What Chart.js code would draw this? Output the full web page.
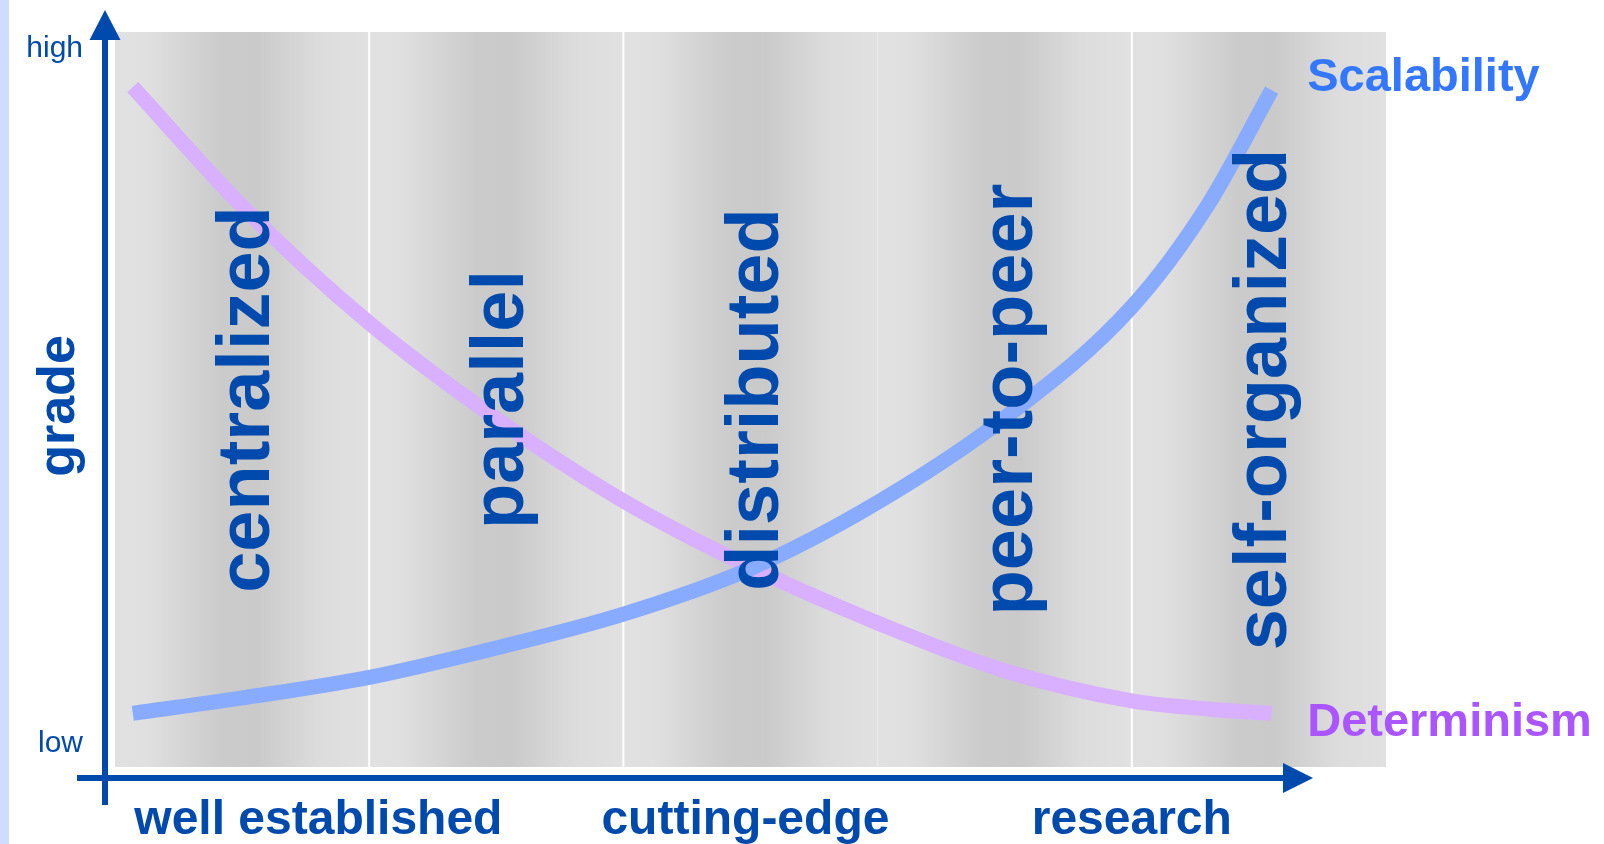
<!DOCTYPE html>
<html>
<head>
<meta charset="utf-8">
<script src="https://cdn.jsdelivr.net/npm/chart.js@4/dist/chart.umd.min.js"></script>
<style>
  html, body { margin: 0; padding: 0; background: #ffffff; }
  #wrap { width: 1604px; height: 844px; position: relative; }
  canvas { display: block; }
</style>
</head>
<body>
<div id="wrap"><canvas id="c" width="1604" height="844"></canvas></div>
<script>
// ---- data ----
const categories = ['centralized', 'parallel', 'distributed', 'peer-to-peer', 'self-organized'];
const xPositions = [0.07, 0.5, 1.0, 1.5, 2.0, 2.5, 3.0, 3.5, 4.0, 4.3, 4.55];
const scalability = [0.073, 0.094, 0.122, 0.162, 0.208, 0.270, 0.360, 0.475, 0.626, 0.765, 0.921];
const determinism = [0.925, 0.763, 0.604, 0.474, 0.362, 0.272, 0.196, 0.131, 0.090, 0.079, 0.073];
const seriesNames = ['Scalability', 'Determinism'];
const maturityLabels = ['well established', 'cutting-edge', 'research'];
const maturityPositions = [0.8, 2.48, 4.0];
const gradeLabels = ['low', 'high'];
const gradeValues = [0.02, 0.966];
const axisTitle = 'grade';

const FONT = '"Liberation Sans", Arial, Helvetica, sans-serif';
const DARK = '#004aad';

const decor = {
  id: 'decor',
  beforeDatasetsDraw(chart) {
    const ctx = chart.ctx;
    const xs = chart.scales.x;
    const area = chart.chartArea;
    ctx.save();
    // left strip
    ctx.fillStyle = '#cddcff';
    ctx.fillRect(0, 0, 9, chart.height);
    // bands
    for (let i = 0; i < categories.length; i++) {
      const x0 = xs.getPixelForValue(i), x1 = xs.getPixelForValue(i + 1);
      const g = ctx.createLinearGradient(x0, 0, x1, 0);
      g.addColorStop(0, '#e1e1e1');
      g.addColorStop(0.12, '#e0e0e0');
      g.addColorStop(0.42, '#cbcbcb');
      g.addColorStop(0.56, '#cacaca');
      g.addColorStop(0.8, '#dcdcdc');
      g.addColorStop(1, '#e1e1e1');
      ctx.fillStyle = g;
      ctx.fillRect(x0, area.top, x1 - x0, area.bottom - area.top);
    }
    // white separators
    ctx.fillStyle = '#ffffff';
    [1, 2, 4].forEach(v => {
      const x = xs.getPixelForValue(v);
      ctx.fillRect(x - 1, area.top, 2, area.bottom - area.top);
    });
    ctx.restore();
  },
  afterDatasetsDraw(chart) {
    const ctx = chart.ctx;
    const xs = chart.scales.x, ys = chart.scales.y;
    const area = chart.chartArea;
    const midY = (area.top + area.bottom) / 2;
    ctx.save();
    // category labels (rotated)
    ctx.fillStyle = DARK;
    ctx.font = 'bold 74px ' + FONT;
    ctx.textAlign = 'center';
    ctx.textBaseline = 'alphabetic';
    categories.forEach((c, i) => {
      const cx = xs.getPixelForValue(i + 0.5);
      ctx.save();
      ctx.translate(cx + 27, midY);
      ctx.rotate(-Math.PI / 2);
      ctx.fillText(c, 0, 0);
      ctx.restore();
    });
    // axes
    const axX = area.left - 10;      // y axis x
    const axY = area.bottom + 11;    // x axis y
    ctx.fillStyle = DARK;
    ctx.fillRect(axX - 3, 40, 6, axY + 27 - 40);
    ctx.beginPath();
    ctx.moveTo(axX, 10); ctx.lineTo(axX - 15.5, 40); ctx.lineTo(axX + 15.5, 40); ctx.closePath();
    ctx.fill();
    ctx.fillRect(77, axY - 3, 1283 - 77, 6);
    ctx.beginPath();
    ctx.moveTo(1313, axY); ctx.lineTo(1283, axY - 15); ctx.lineTo(1283, axY + 15); ctx.closePath();
    ctx.fill();
    // maturity labels
    ctx.font = 'bold 48px ' + FONT;
    ctx.textAlign = 'center';
    maturityLabels.forEach((t, i) => {
      ctx.fillText(t, xs.getPixelForValue(maturityPositions[i]), 834);
    });
    // grade labels
    ctx.font = '30px ' + FONT;
    ctx.textAlign = 'right';
    gradeLabels.forEach((t, i) => {
      ctx.fillText(t, 83, ys.getPixelForValue(gradeValues[i]));
    });
    // axis title
    ctx.textAlign = 'center';
    ctx.font = 'bold 52px ' + FONT;
    ctx.save();
    ctx.translate(74, 406);
    ctx.rotate(-Math.PI / 2);
    ctx.fillText(axisTitle, 0, 0);
    ctx.restore();
    // series labels
    ctx.font = 'bold 47px ' + FONT;
    ctx.textAlign = 'left';
    ctx.fillStyle = '#3377ff';
    ctx.fillText(seriesNames[0], xs.getPixelForValue(4.69), ys.getPixelForValue(0.92));
    ctx.fillStyle = '#aa55ff';
    ctx.fillText(seriesNames[1], xs.getPixelForValue(4.69), ys.getPixelForValue(0.042));
    ctx.restore();
  }
};

new Chart(document.getElementById('c'), {
  type: 'line',
  data: {
    datasets: [
      {
        label: seriesNames[0],
        data: xPositions.map((x, i) => ({ x: x, y: scalability[i] })),
        borderColor: '#88aaff',
        borderWidth: 15,
        pointRadius: 0,
        cubicInterpolationMode: 'monotone',
        fill: false
      },
      {
        label: seriesNames[1],
        data: xPositions.map((x, i) => ({ x: x, y: determinism[i] })),
        borderColor: '#d8b0ff',
        borderWidth: 15,
        pointRadius: 0,
        cubicInterpolationMode: 'monotone',
        fill: false
      }
    ]
  },
  options: {
    responsive: false,
    animation: false,
    devicePixelRatio: 1,
    layout: { padding: { left: 115, right: 218, top: 32, bottom: 77 } },
    scales: {
      x: { type: 'linear', min: 0, max: 5, display: false },
      y: { type: 'linear', min: 0, max: 1, display: false }
    },
    plugins: { legend: { display: false }, tooltip: { enabled: false } }
  },
  plugins: [decor]
});
</script>
</body>
</html>
